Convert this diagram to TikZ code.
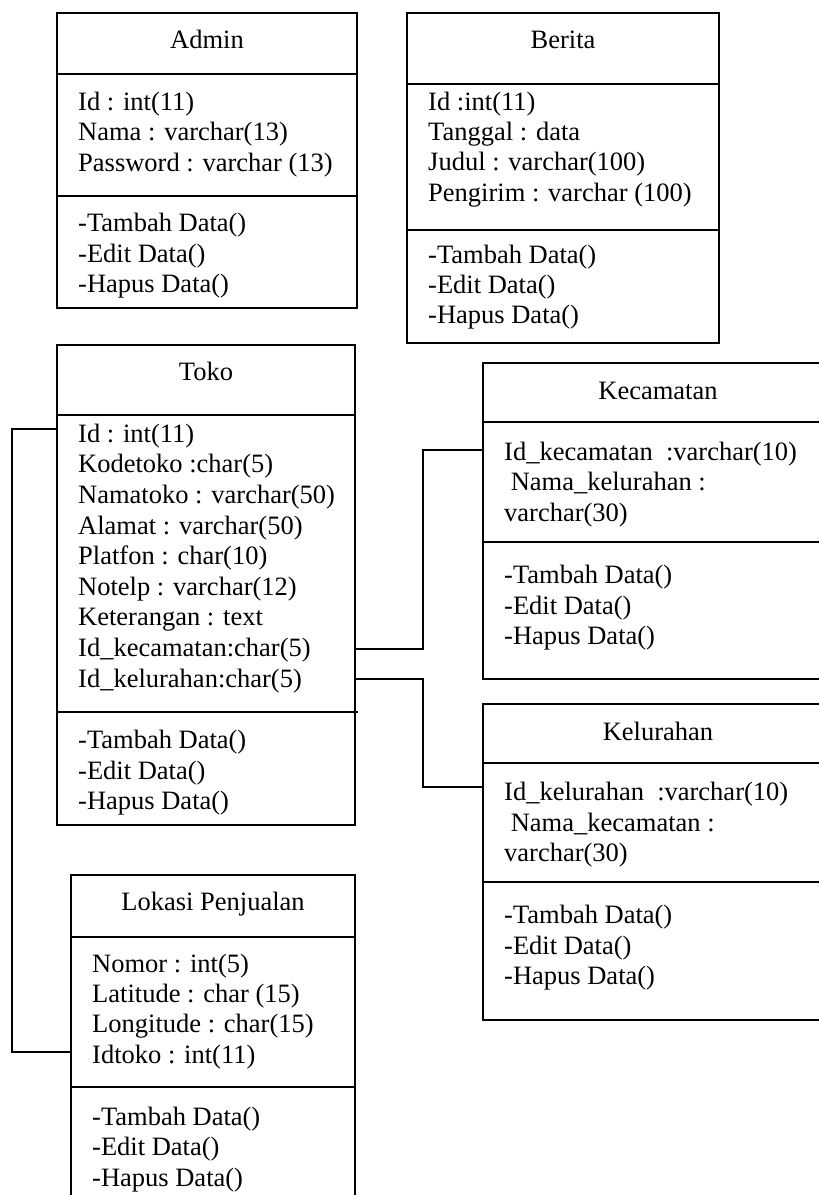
\documentclass[tikz,border=0pt]{standalone}
\usepackage{fontspec}
\setmainfont{Liberation Serif}
\tikzset{
 box/.style={draw, line width=1.8pt, anchor=north west, inner sep=0pt, outer sep=0pt},
 sepline/.style={line width=1.8pt},
 conn/.style={line width=1.8pt},
 txt/.style={anchor=base west, inner sep=0pt, font=\fontsize{26.5}{30.7}\selectfont},
 ttl/.style={anchor=base, inner sep=0pt, font=\fontsize{26.5}{30.7}\selectfont},
}
\newcommand\umllines[5]{\foreach \t [count=\i] in {#5} {\node[txt] (#1\i) at (#2,{#3+#4*(\i-1)}) {\t};}}
\begin{document}
\begin{tikzpicture}[x=1pt,y=-1pt]
\useasboundingbox (0,0) rectangle (819,1195);
% Admin
\node[box, minimum width=300pt, minimum height=295pt] (admin) at (57,13) {};
\draw[sepline] (admin.west |- 0,74) -- (admin.east |- 0,74);
\draw[sepline] (admin.west |- 0,196) -- (admin.east |- 0,196);
\node[ttl] (admint) at (207,48.3) {Admin};
\umllines{adma}{78}{110}{30.6}{{Id : int(11)},{Nama : varchar(13)},{Password : varchar (13)}}
\umllines{admm}{78}{231.7}{30.5}{{-Tambah Data()},{-Edit Data()},{-Hapus Data()}}
% Berita
\node[box, minimum width=312pt, minimum height=330pt] (berita) at (407,13) {};
\draw[sepline] (berita.west |- 0,84) -- (berita.east |- 0,84);
\draw[sepline] (berita.west |- 0,230) -- (berita.east |- 0,230);
\node[ttl] (beritat) at (563,48.3) {Berita};
\umllines{bera}{428}{110}{30.4}{{Id :int(11)},{Tanggal : data},{Judul : varchar(100)},{Pengirim : varchar (100)}}
\umllines{berm}{428}{263}{30.2}{{-Tambah Data()},{-Edit Data()},{-Hapus Data()}}
% Toko
\node[box, minimum width=298pt, minimum height=480pt] (toko) at (57,345) {};
\draw[sepline] (toko.west |- 0,415) -- (toko.east |- 0,415);
\draw[sepline] (toko.west |- 0,712) -- ++(301,0);
\node[ttl] (tokot) at (206,380.7) {Toko};
\umllines{tokoa}{78}{442.3}{30.6}{{Id : int(11)},{Kodetoko :char(5)},{Namatoko : varchar(50)},{Alamat : varchar(50)},{Platfon : char(10)},{Notelp : varchar(12)},{Keterangan : text},{Id\_kecamatan:char(5)},{Id\_kelurahan:char(5)}}
\umllines{tokom}{78}{748.3}{30.8}{{-Tambah Data()},{-Edit Data()},{-Hapus Data()}}
% Kecamatan
\node[box, minimum width=350pt, minimum height=316pt] (kec) at (483,363) {};
\draw[sepline] (kec.west |- 0,422) -- (kec.east |- 0,422);
\draw[sepline] (kec.west |- 0,542) -- (kec.east |- 0,542);
\node[ttl] (kect) at (658,399) {Kecamatan};
\umllines{keca}{504}{460}{30.5}{{Id\_kecamatan~~:varchar(10)},{\hspace{6.6pt}Nama\_kelurahan :},{varchar(30)}}
\umllines{kecm}{504}{583.3}{30.8}{{-Tambah Data()},{-Edit Data()},{-Hapus Data()}}
% Kelurahan
\node[box, minimum width=350pt, minimum height=316pt] (kel) at (483,704) {};
\draw[sepline] (kel.west |- 0,763) -- (kel.east |- 0,763);
\draw[sepline] (kel.west |- 0,882) -- (kel.east |- 0,882);
\node[ttl] (kelt) at (658,740) {Kelurahan};
\umllines{kela}{504}{800.7}{30.5}{{Id\_kelurahan~~:varchar(10)},{\hspace{6.6pt}Nama\_kecamatan :},{varchar(30)}}
\umllines{kelm}{504}{923.3}{30.8}{{-Tambah Data()},{-Edit Data()},{-Hapus Data()}}
% Lokasi Penjualan
\node[box, minimum width=284pt, minimum height=380pt] (lok) at (71,875) {};
\draw[sepline] (lok.west |- 0,937) -- (lok.east |- 0,937);
\draw[sepline] (lok.west |- 0,1087) -- (lok.east |- 0,1087);
\node[ttl] (lokt) at (213,910) {Lokasi Penjualan};
\umllines{loka}{92}{972.3}{30.3}{{Nomor : int(5)},{Latitude : char (15)},{Longitude : char(15)},{Idtoko : int(11)}}
\umllines{lokm}{92}{1125}{30.5}{{-Tambah Data()},{-Edit Data()},{-Hapus Data()}}
% connectors
\draw[conn] (toko.west |- 0,429) -- ++(-45,0) |- (lok.west |- 0,1052);
\draw[conn] (toko.east |- 0,649) -- ++(68,0) |- (kec.west |- 0,450);
\draw[conn] (toko.east |- 0,679) -- ++(68,0) |- (kel.west |- 0,787);
\end{tikzpicture}
\end{document}
